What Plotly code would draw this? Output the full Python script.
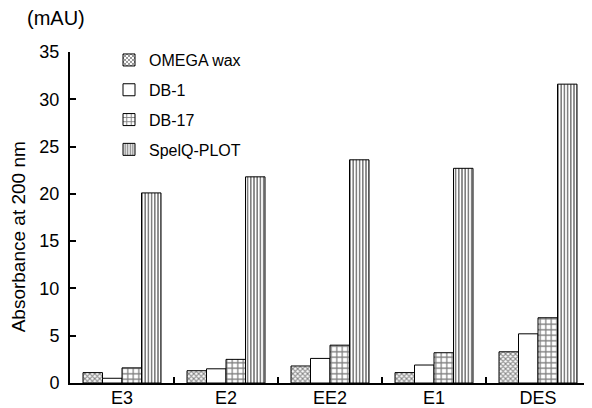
import plotly.graph_objects as go

categories = ["E3", "E2", "EE2", "E1", "DES"]
omega_wax = [1.1, 1.3, 1.8, 1.1, 3.3]
db1 = [0.5, 1.5, 2.6, 1.9, 5.2]
db17 = [1.6, 2.5, 4.0, 3.2, 6.9]
spelq_plot = [20.1, 21.8, 23.6, 22.7, 31.6]

series = [
    ("OMEGA wax", omega_wax, dict(shape="x", size=3.5, solidity=0.5, fgcolor="#000000", bgcolor="#ffffff")),
    ("DB-1", db1, None),
    ("DB-17", db17, dict(shape="+", size=5.5, solidity=0.4, fgcolor="#000000", bgcolor="#ffffff")),
    ("SpelQ-PLOT", spelq_plot, dict(shape="|", size=3.2, solidity=0.5, fgcolor="#000000", bgcolor="#ffffff")),
]

fig = go.Figure()
for name, vals, pat in series:
    marker = dict(color="#ffffff", line=dict(color="#000000", width=1))
    if pat:
        marker["pattern"] = pat
    fig.add_trace(go.Bar(x=categories, y=vals, name=name, marker=marker, legendgroup=name))

font = "Liberation Sans, Arial, sans-serif"
# page body has an 8px margin, so the figure is sized to fit the 592x408 window
fig.update_layout(
    width=584, height=400,
    margin=dict(l=62, r=2, t=44, b=25),
    paper_bgcolor="white", plot_bgcolor="white",
    barmode="group", bargap=0.25, bargroupgap=0,
    font=dict(family=font, size=18, color="#000000"),
    showlegend=True,
    legend=dict(x=0.075, y=1.027, xanchor="left", yanchor="top", traceorder="grouped",
                font=dict(size=16, family=font), bgcolor="rgba(0,0,0,0)",
                tracegroupgap=6, itemwidth=30),
    annotations=[
        dict(text="(mAU)", x=-0.0865, y=1.102, xref="paper", yref="paper",
             xanchor="left", yanchor="middle", showarrow=False,
             font=dict(size=20, family=font)),
        dict(text="Absorbance at 200 nm", x=-0.1, y=0.44, xref="paper", yref="paper",
             xanchor="center", yanchor="middle", textangle=-90, showarrow=False,
             font=dict(size=19, family=font)),
    ],
)
fig.update_xaxes(showline=True, linecolor="#000000", linewidth=2, ticks="inside",
                 tickson="boundaries", ticklen=6, tickwidth=2, tickcolor="#000000",
                 showgrid=False, tickfont=dict(size=18), ticklabelstandoff=-3, automargin=False)
fig.update_yaxes(range=[0, 35], dtick=5, showline=True, linecolor="#000000", linewidth=2,
                 ticks="inside", ticklen=6, tickwidth=2, tickcolor="#000000",
                 showgrid=False, zeroline=False, tickfont=dict(size=18), ticklabelstandoff=5,
                 automargin=False)
fig.write_html("out.html")
